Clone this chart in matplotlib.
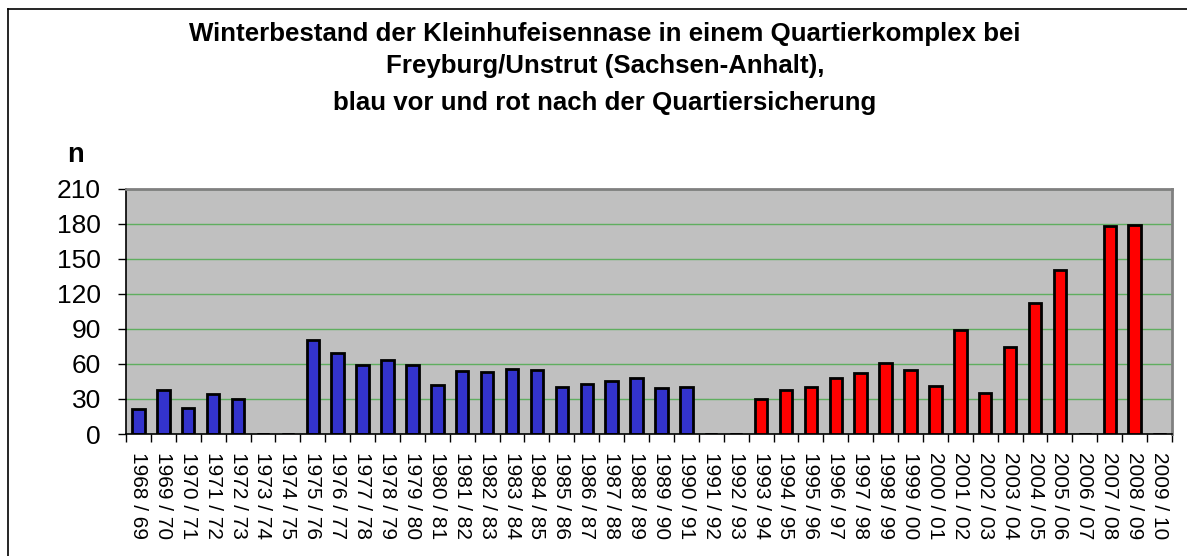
import matplotlib
matplotlib.use("Agg")
import matplotlib.pyplot as plt
import numpy as np
from matplotlib.lines import Line2D

plt.rcParams['font.family'] = ['Liberation Sans', 'DejaVu Sans']

seasons = ["1968 / 69", "1969 / 70", "1970 / 71", "1971 / 72", "1972 / 73", "1973 / 74",
           "1974 / 75", "1975 / 76", "1976 / 77", "1977 / 78", "1978 / 79", "1979 / 80",
           "1980 / 81", "1981 / 82", "1982 / 83", "1983 / 84", "1984 / 85", "1985 / 86",
           "1986 / 87", "1987 / 88", "1988 / 89", "1989 / 90", "1990 / 91", "1991 / 92",
           "1992 / 93", "1993 / 94", "1994 / 95", "1995 / 96", "1996 / 97", "1997 / 98",
           "1998 / 99", "1999 / 00", "2000 / 01", "2001 / 02", "2002 / 03", "2003 / 04",
           "2004 / 05", "2005 / 06", "2006 / 07", "2007 / 08", "2008 / 09", "2009 / 10"]

# before securing the roost (blue), 0 = no count
before = [21, 38, 22, 34, 30, 0, 0, 80, 69, 59, 63, 59, 42, 54, 53, 56, 55, 40, 43, 45, 48, 39, 40,
          0, 0, 0, 0, 0, 0, 0, 0, 0, 0, 0, 0, 0, 0, 0, 0, 0, 0, 0]
# after securing the roost (red)
after = [0] * 25 + [30, 38, 40, 48, 52, 61, 55, 41, 89, 35, 74, 112, 140, 0, 178, 179, 0]

title_lines = ["Winterbestand der Kleinhufeisennase in einem Quartierkomplex bei",
               "Freyburg/Unstrut (Sachsen-Anhalt),",
               "blau vor und rot nach der Quartiersicherung"]
yticks = [0, 30, 60, 90, 120, 150, 180, 210]

W, H = 1187, 556
fig = plt.figure(figsize=(W / 100, H / 100), dpi=100)
fig.patch.set_facecolor('white')

left, right, top, bottom = 126, 1172, 188.5, 434
ax = fig.add_axes([left / W, 1 - bottom / H, (right - left) / W, (bottom - top) / H])
ax.set_facecolor('#c0c0c0')

x = np.arange(len(seasons))
ax.bar(x, before, width=0.5, color='#3333cc', edgecolor='black', linewidth=2, zorder=3)
ax.bar(x, after, width=0.5, color='#ff0000', edgecolor='black', linewidth=2, zorder=3)

ax.set_xlim(-0.5, len(seasons) - 0.5)
ax.set_ylim(0, 210)
ax.set_yticks(yticks)
ax.set_yticklabels([str(v) for v in yticks], fontsize=19)
ax.yaxis.grid(True, color='#5fae5f', linewidth=1.0, zorder=1)
ax.set_axisbelow(True)

ax.set_xticks(x)
ax.set_xticklabels(seasons, rotation=-90, fontsize=15, va='top', ha='center')
ax.set_xticks(np.arange(len(seasons) + 1) - 0.5, minor=True)
ax.tick_params(axis='x', which='major', length=0, pad=13)
ax.tick_params(axis='x', which='minor', length=6, width=1, color='black', direction='out')
ax.tick_params(axis='y', length=6, width=1, color='black', pad=12, direction='out')

for s in ['top', 'right']:
    ax.spines[s].set_color('#808080')
    ax.spines[s].set_linewidth(2)
for s in ['left', 'bottom']:
    ax.spines[s].set_color('black')
    ax.spines[s].set_linewidth(1.2)

# titles
baselines = [40.7, 73.3, 110]
for t, b in zip(title_lines, baselines):
    fig.text(605 / W, 1 - b / H, t, ha='center', va='baseline', fontsize=18.6, fontweight='bold')

fig.text(75.5 / W, 1 - 162 / H, "n", ha='center', va='baseline', fontsize=19.5, fontweight='bold')

# chart area frame (top and left visible)
fig.add_artist(Line2D([8 / W, 8 / W], [0, 1 - 9 / H], transform=fig.transFigure, color='black', linewidth=1.2))
fig.add_artist(Line2D([8 / W, 1], [1 - 9 / H, 1 - 9 / H], transform=fig.transFigure, color='black', linewidth=1.2))

fig.savefig("out.png", dpi=100)
